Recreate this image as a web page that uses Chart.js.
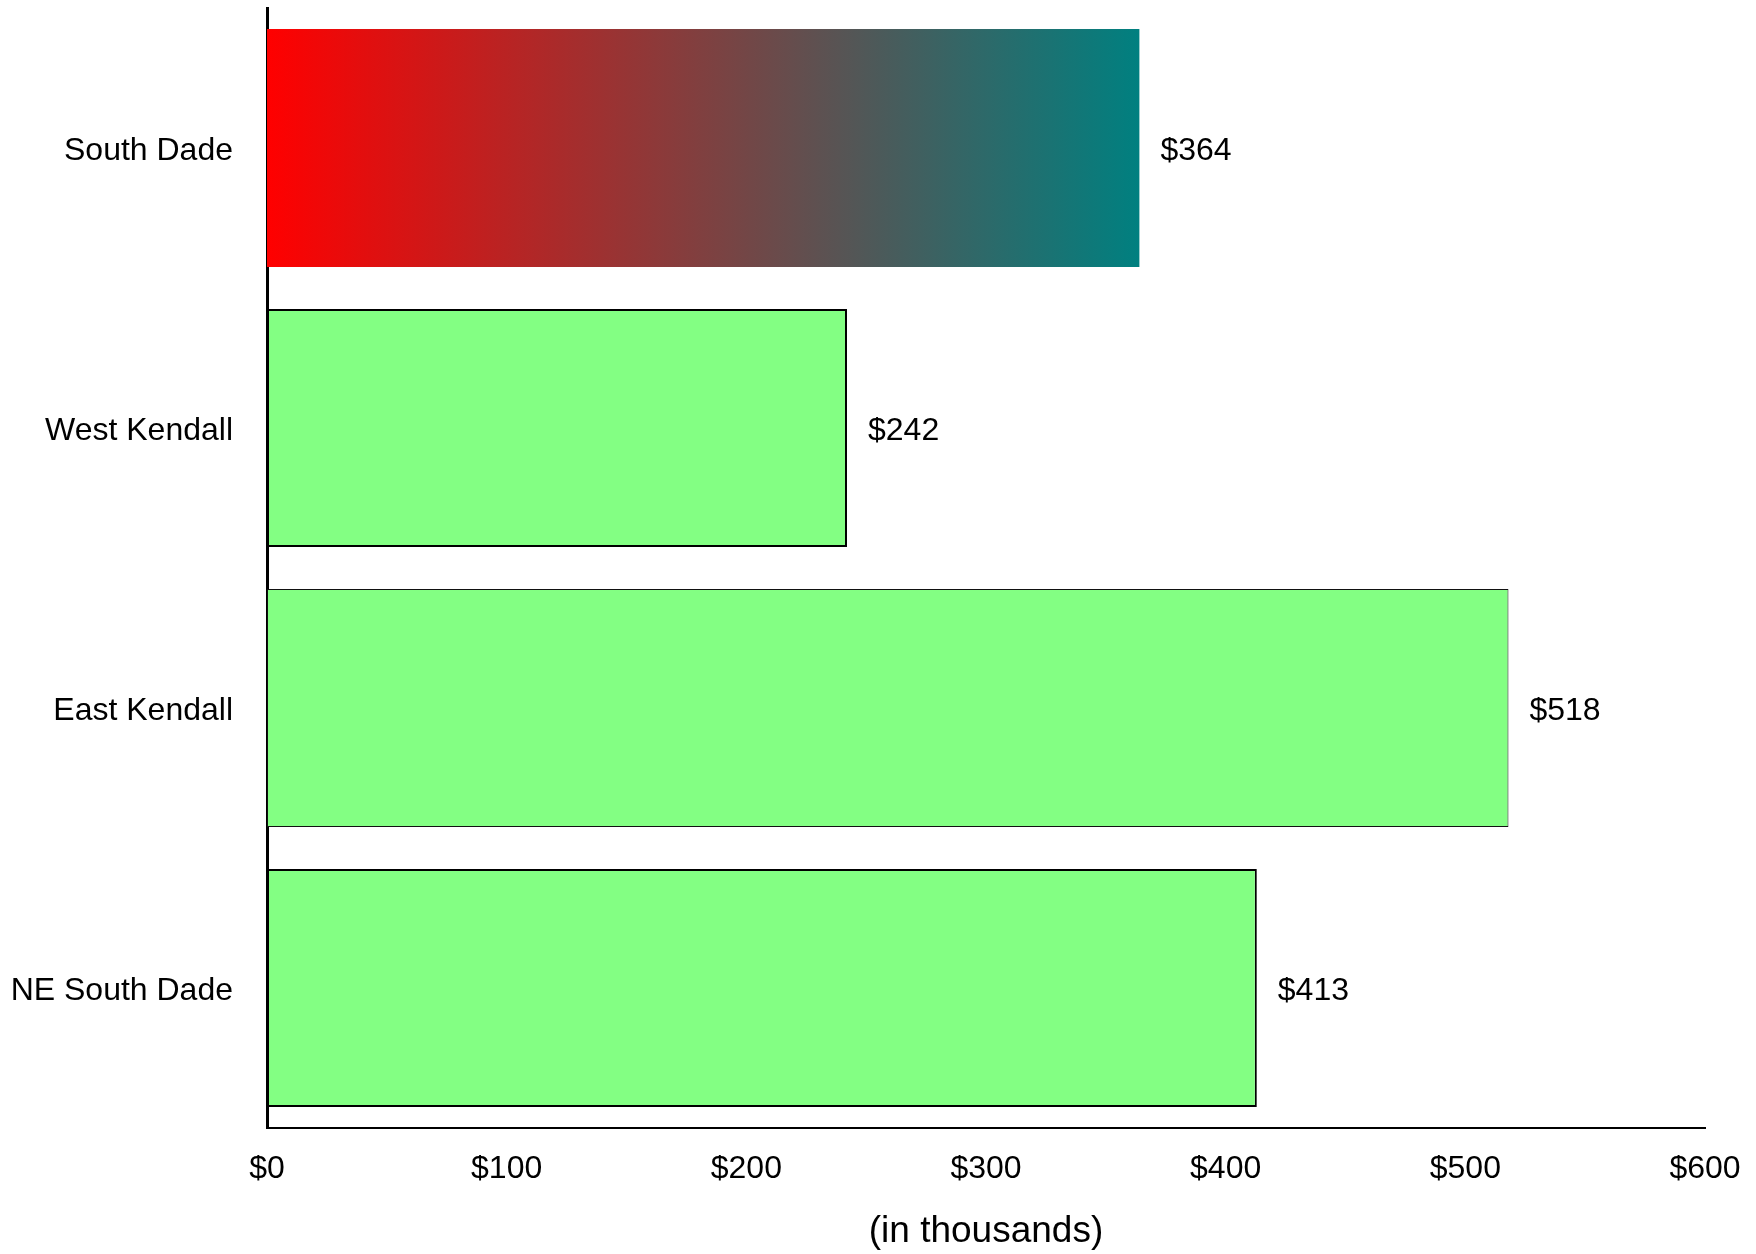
<!DOCTYPE html>
<html>
<head>
<meta charset="utf-8">
<script src="https://cdn.jsdelivr.net/npm/chart.js@4/dist/chart.umd.min.js"></script>
<style>
  html, body { margin: 0; padding: 0; background: #fff; }
  #wrap { width: 1756px; height: 1254px; position: relative; }
</style>
</head>
<body>
<div id="wrap"><canvas id="costChart"></canvas></div>
<script>
// Chart data
const areas = ['South Dade', 'West Kendall', 'East Kendall', 'NE South Dade'];
const costs = [364, 242, 518, 413];
const xTicks = [0, 100, 200, 300, 400, 500, 600];
const axisTitle = '(in thousands)';

Chart.defaults.color = '#000';
Chart.defaults.font.family = "'Liberation Sans', Arial, sans-serif";

const green = '#83ff83';

// first bar: red -> teal gradient along its length
function barFill(context) {
  if (context.dataIndex !== 0) return green;
  const chart = context.chart;
  const area = chart.chartArea;
  const xScale = chart.scales.x;
  if (!area || !xScale) return '#ff0000';
  const end = xScale.getPixelForValue(costs[0]);
  const g = chart.ctx.createLinearGradient(area.left, 0, end, 0);
  g.addColorStop(0, '#ff0000');
  g.addColorStop(1, '#008080');
  return g;
}

// value labels to the right of each bar
const valueLabels = {
  id: 'valueLabels',
  afterDatasetsDraw(chart) {
    const ctx = chart.ctx;
    const meta = chart.getDatasetMeta(0);
    ctx.save();
    ctx.font = "32px 'Liberation Sans', Arial, sans-serif";
    ctx.fillStyle = '#000';
    ctx.textAlign = 'left';
    ctx.textBaseline = 'middle';
    meta.data.forEach((bar, i) => {
      ctx.fillText('$' + costs[i], bar.x + 21, bar.y + 3);
    });
    ctx.restore();
  }
};

new Chart(document.getElementById('costChart'), {
  type: 'bar',
  data: {
    labels: areas,
    datasets: [{
      data: costs,
      backgroundColor: barFill,
      borderColor: ['#000', '#000', '#111', '#000'],
      borderWidth: [0, 2, 1, 2],
      borderSkipped: false,
      categoryPercentage: 1,
      barPercentage: 0.85
    }]
  },
  options: {
    indexAxis: 'y',
    responsive: true,
    maintainAspectRatio: false,
    animation: false,
    layout: { padding: { top: 8, right: 51, bottom: 0, left: 0 } },
    plugins: {
      legend: { display: false },
      tooltip: { enabled: false }
    },
    scales: {
      x: {
        min: 0,
        max: 600,
        afterBuildTicks: (scale) => { scale.ticks = xTicks.map(v => ({ value: v })); },
        afterFit: (scale) => {
          scale.height = 126;
          scale.paddingLeft = 0;
          scale.paddingRight = 0;
        },
        grid: { display: false, drawTicks: false },
        border: { display: true, color: '#000', width: 2 },
        ticks: {
          padding: 22,
          maxRotation: 0,
          autoSkip: false,
          font: { size: 32 },
          callback: (v) => '$' + v
        },
        title: {
          display: true,
          text: axisTitle,
          font: { size: 37 },
          padding: { top: 0, bottom: 0 }
        }
      },
      y: {
        afterFit: (scale) => {
          scale.width = 267;
          scale.paddingTop = 0;
          scale.paddingBottom = 0;
        },
        grid: { display: false, drawTicks: false },
        border: { display: true, color: '#000', width: 3 },
        ticks: { padding: 34, labelOffset: 3, font: { size: 32 } }
      }
    }
  },
  plugins: [valueLabels]
});
</script>
</body>
</html>
